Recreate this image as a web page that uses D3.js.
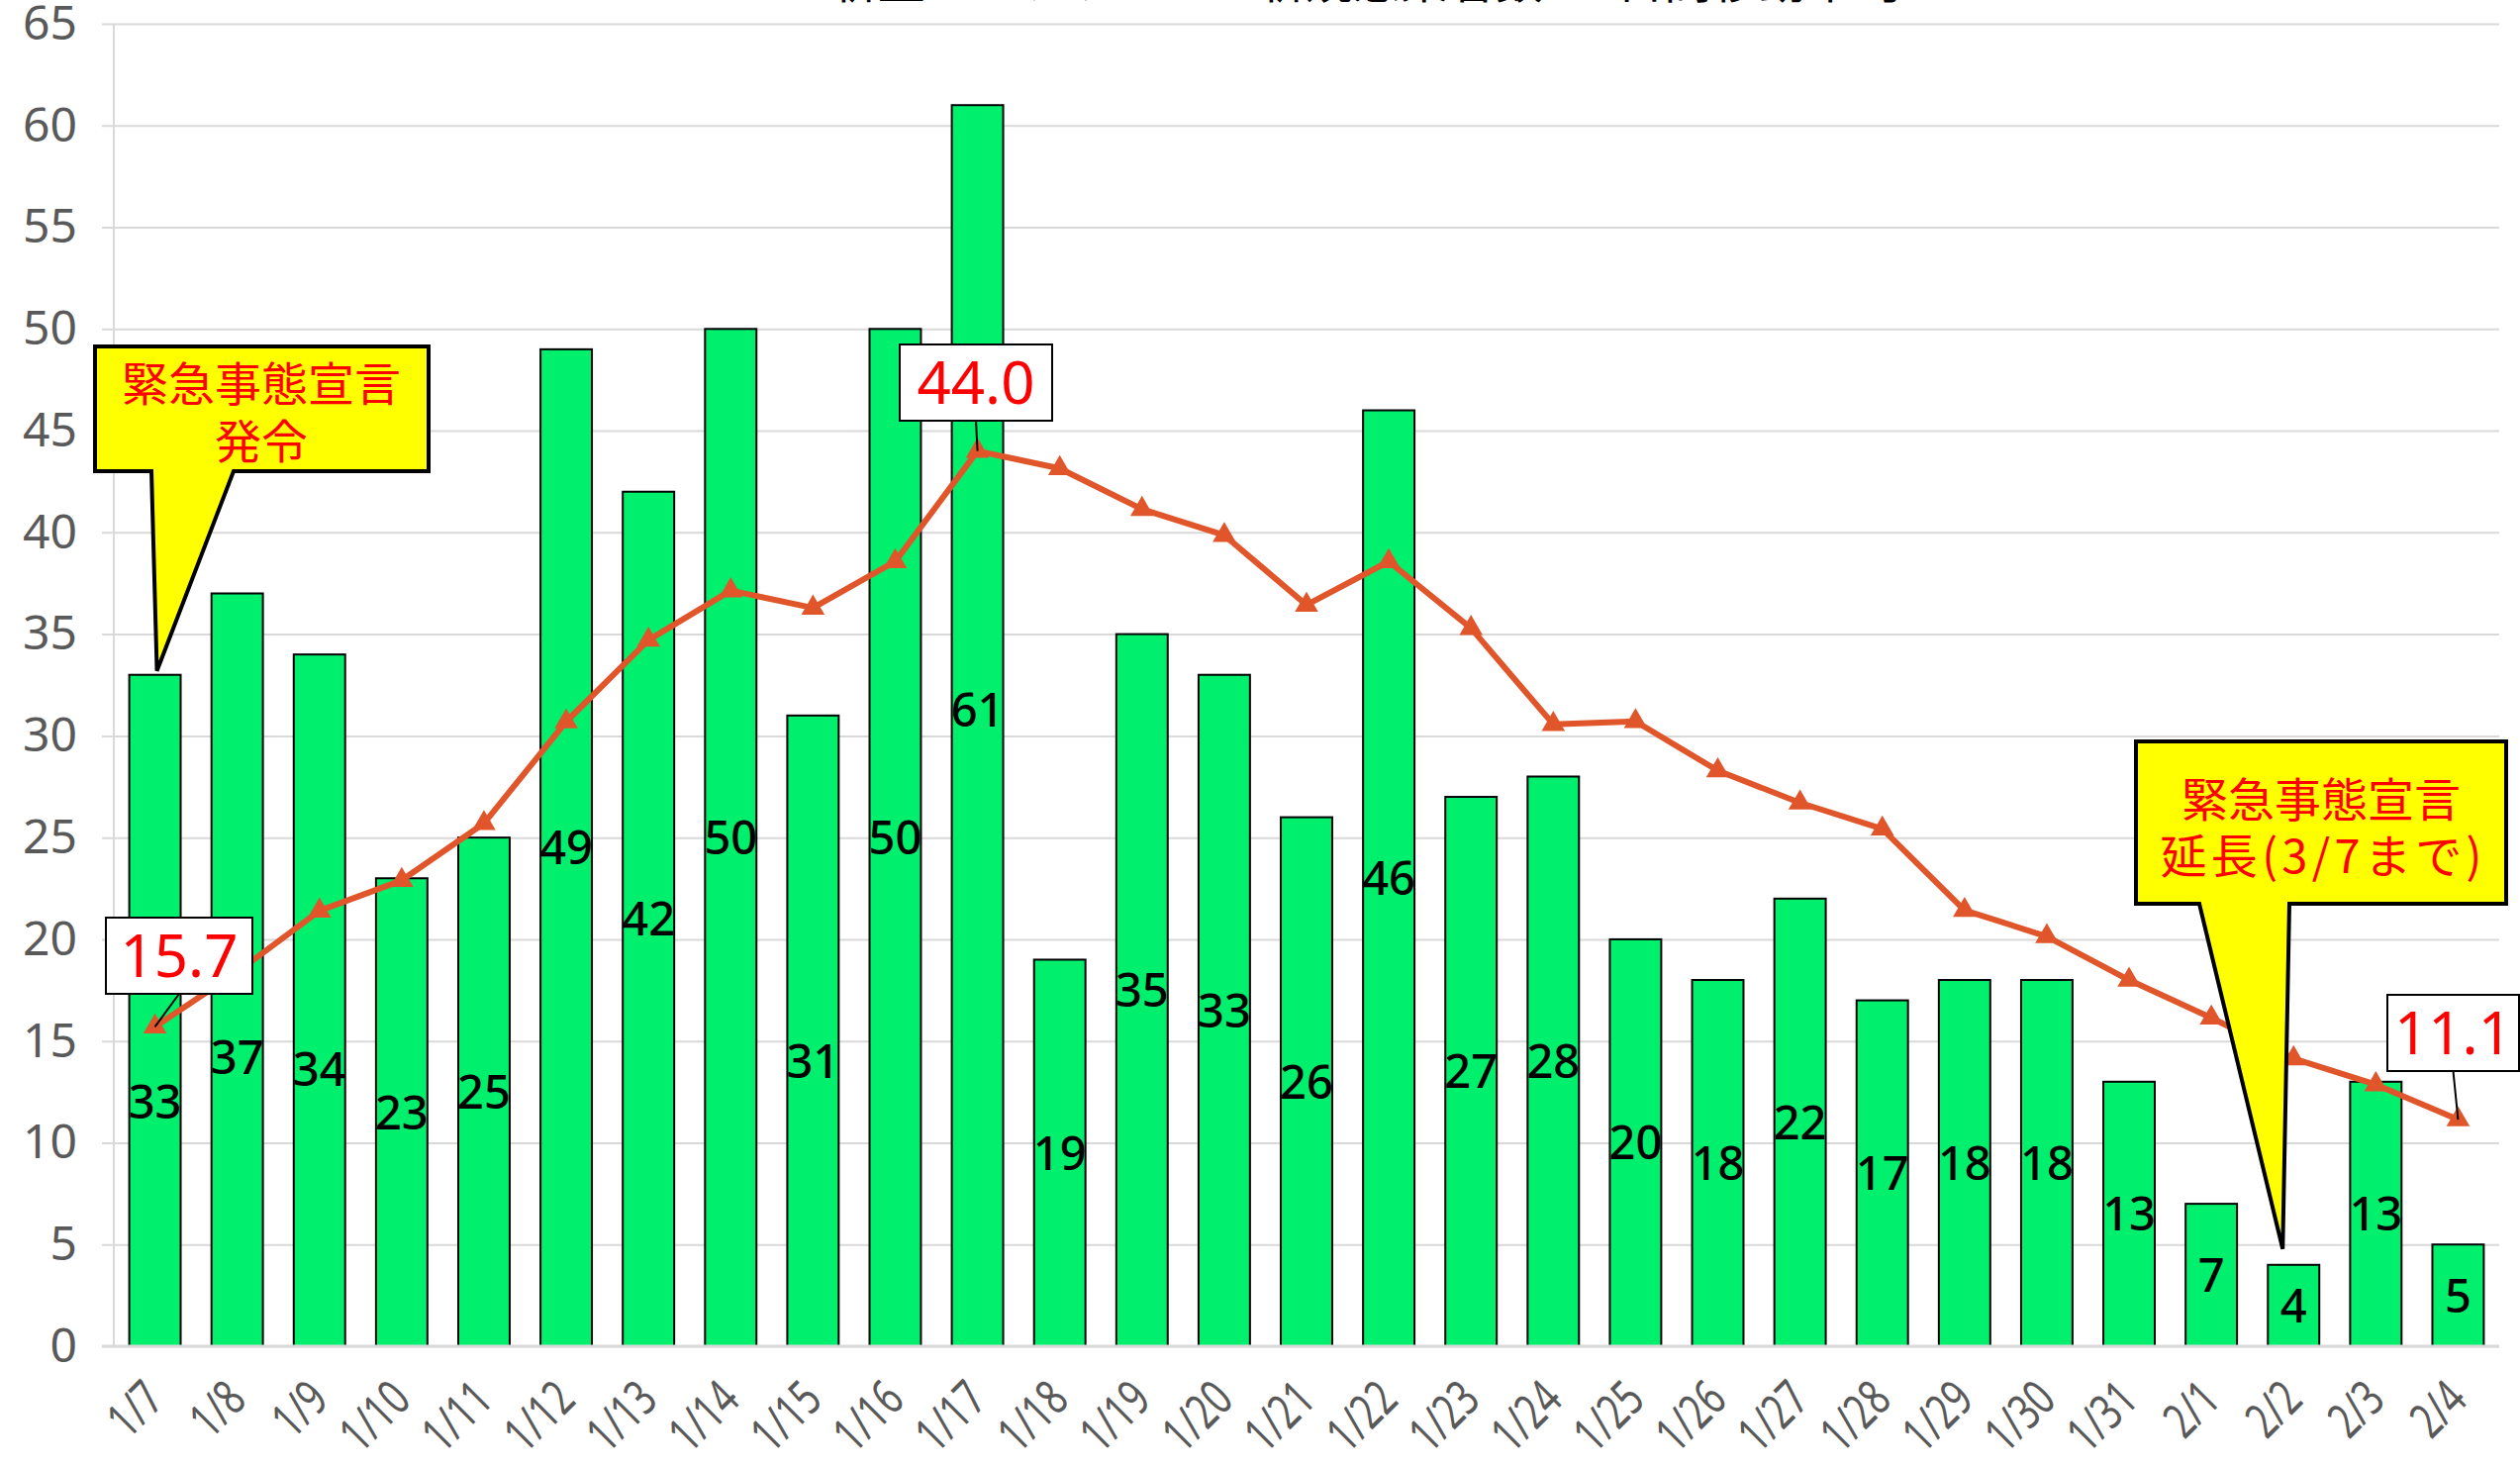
<!DOCTYPE html>
<html>
<head>
<meta charset="utf-8">
<script src="https://cdn.jsdelivr.net/npm/d3@7"></script>
<style>
  body { margin: 0; background: #fff; }
  svg { display: block; font-family: "Noto Sans CJK JP", "Noto Sans", sans-serif; }
</style>
</head>
<body>
<div id="chart"></div>
<script>
// daily counts and 7-day moving average
const dates = ['1/7','1/8','1/9','1/10','1/11','1/12','1/13','1/14','1/15','1/16','1/17','1/18','1/19','1/20',
  '1/21','1/22','1/23','1/24','1/25','1/26','1/27','1/28','1/29','1/30','1/31','2/1','2/2','2/3','2/4'];
const cases = [33,37,34,23,25,49,42,50,31,50,61,19,35,33,26,46,27,28,20,18,22,17,18,18,13,7,4,13,5];
const avg7 = [15.7,18.4,21.4,22.9,25.7,30.7,34.71,37.14,36.29,38.57,44.0,43.14,41.14,39.86,36.43,38.57,
  35.29,30.57,30.71,28.29,26.71,25.43,21.43,20.14,18.0,16.14,14.14,12.86,11.14];
const yTicks = [0,5,10,15,20,25,30,35,40,45,50,55,60,65];

const W = 2546, H = 1481;
const plotLeft = 115, plotRight = 2525, plotTop = 24, plotBottom = 1360;

const svg = d3.select('#chart').append('svg')
    .attr('width', W)
    .attr('height', H);

const x = d3.scaleBand()
    .domain(dates)
    .range([plotLeft, plotRight])
    .paddingInner(0.375)
    .paddingOuter(0.1875);

const y = d3.scaleLinear().domain([0, 65]).range([plotBottom, plotTop]);
const cx = d => x(d) + x.bandwidth() / 2;

// title, mostly cut off at the top edge like the source image
svg.append('text')
    .attr('x', 1380)
    .attr('y', -2)
    .attr('text-anchor', 'middle')
    .attr('font-size', 48)
    .attr('fill', '#000')
    .text('新型コロナウイルス新規感染者数と7日間移動平均');

// gridlines + y labels
const yAxis = svg.append('g')
    .attr('transform', `translate(103,0)`)
    .call(d3.axisLeft(y).tickValues(yTicks).tickSize(-(plotRight - 103)).tickPadding(25));
yAxis.select('.domain').remove();
yAxis.selectAll('line').attr('stroke', '#d9d9d9').attr('stroke-width', 2);
yAxis.selectAll('text')
    .attr('font-size', 48)
    .attr('fill', '#595959')
    .attr('font-family', '"Noto Sans", sans-serif');

// vertical axis line
svg.append('line')
    .attr('x1', plotLeft).attr('x2', plotLeft)
    .attr('y1', plotTop).attr('y2', plotBottom)
    .attr('stroke', '#d9d9d9').attr('stroke-width', 2);

// bars
svg.append('g').selectAll('rect')
    .data(cases)
    .join('rect')
    .attr('x', (d, i) => x(dates[i]))
    .attr('y', d => y(d))
    .attr('width', x.bandwidth())
    .attr('height', d => y(0) - y(d))
    .attr('fill', '#00f06e')
    .attr('stroke', '#000')
    .attr('stroke-width', 2);

// x axis baseline
svg.append('line')
    .attr('x1', 103).attr('x2', plotRight)
    .attr('y1', plotBottom).attr('y2', plotBottom)
    .attr('stroke', '#d9d9d9').attr('stroke-width', 3);

// x labels (narrow face, slanted 45deg)
svg.append('g').selectAll('text')
    .data(dates)
    .join('text')
    .attr('transform', d => `translate(${cx(d) - 1},${plotBottom + 44}) rotate(-45) scale(0.72,1)`)
    .attr('text-anchor', 'end')
    .attr('dy', '0.35em')
    .attr('font-size', 50)
    .attr('fill', '#595959')
    .attr('font-family', '"Noto Sans", sans-serif')
    .text(d => d);

// bar value labels (centre of bar; a few were moved off the line in the source)
const movedLabel = { '1/7': 12.0, '1/8': 14.2, '1/9': 13.6, '1/15': 14.0, '1/17': 31.3 };
svg.append('g').selectAll('text')
    .data(cases)
    .join('text')
    .attr('x', (d, i) => cx(dates[i]))
    .attr('y', (d, i) => y(movedLabel[dates[i]] !== undefined ? movedLabel[dates[i]] : d / 2))
    .attr('dy', '0.36em')
    .attr('text-anchor', 'middle')
    .attr('font-size', 47)
    .attr('font-weight', 500)
    .attr('fill', '#000')
    .attr('font-family', '"Noto Sans", sans-serif')
    .text(d => d);

// moving average line
const line = d3.line()
    .x((d, i) => cx(dates[i]))
    .y(d => y(d));

svg.append('path')
    .datum(avg7)
    .attr('d', line)
    .attr('fill', 'none')
    .attr('stroke', '#e0562a')
    .attr('stroke-width', 6)
    .attr('stroke-linejoin', 'round');

svg.append('g').selectAll('path')
    .data(avg7)
    .join('path')
    .attr('d', d3.symbol(d3.symbolTriangle, 240))
    .attr('transform', (d, i) => `translate(${cx(dates[i])},${y(d)})`)
    .attr('fill', '#e0562a');

// callouts
function callout(pts, lines, midX, lineYs, widths) {
    svg.append('path')
        .attr('d', 'M' + pts.map(p => p.join(',')).join('L') + 'Z')
        .attr('fill', '#ffff00')
        .attr('stroke', '#000')
        .attr('stroke-width', 4)
        .attr('stroke-linejoin', 'miter');
    const t = svg.append('text')
        .attr('text-anchor', 'middle')
        .attr('font-size', 47)
        .attr('fill', '#ff0000');
    lines.forEach((s, i) => {
        const ts = t.append('tspan')
            .attr('x', midX)
            .attr('y', lineYs[i])
            .attr('dy', '0.36em')
            .text(s);
        if (widths && widths[i]) ts.attr('textLength', widths[i]).attr('lengthAdjust', 'spacing');
    });
}

const i1 = dates.indexOf('1/7');
callout([[96,350],[433,350],[433,476],[236,476],[cx(dates[i1]) + 2, y(cases[i1]) - 4],[153,476],[96,476]],
    ['緊急事態宣言', '発令'], 264, [388, 446]);

const i2 = dates.indexOf('2/2');
callout([[2158,749],[2532,749],[2532,913],[2313,913],[cx(dates[i2]) - 11, y(cases[i2]) - 16],[2222,913],[2158,913]],
    ['緊急事態宣言', '延長(3/7まで)'], 2345, [808, 865], [null, 325]);

// value boxes for the moving average
function valueBox(idx, bx, by, bw, bh) {
    const px = cx(dates[idx]), py = y(avg7[idx]);
    svg.append('line')
        .attr('x1', bx + bw / 2).attr('y1', by + bh)
        .attr('x2', px).attr('y2', py)
        .attr('stroke', '#000').attr('stroke-width', 2);
    svg.append('rect')
        .attr('x', bx).attr('y', by)
        .attr('width', bw).attr('height', bh)
        .attr('fill', '#fff')
        .attr('stroke', '#000').attr('stroke-width', 2);
    svg.append('text')
        .attr('x', bx + bw / 2)
        .attr('y', by + bh / 2)
        .attr('dy', '0.36em')
        .attr('text-anchor', 'middle')
        .attr('font-size', 60)
        .attr('fill', '#ff0000')
        .attr('font-family', '"Noto Sans", sans-serif')
        .text(avg7[idx].toFixed(1));
}

valueBox(dates.indexOf('1/7'), 107, 927, 148, 77);
valueBox(dates.indexOf('1/17'), 909, 348, 154, 77);
valueBox(dates.indexOf('2/4'), 2412, 1005, 133, 77);
</script>
</body>
</html>
